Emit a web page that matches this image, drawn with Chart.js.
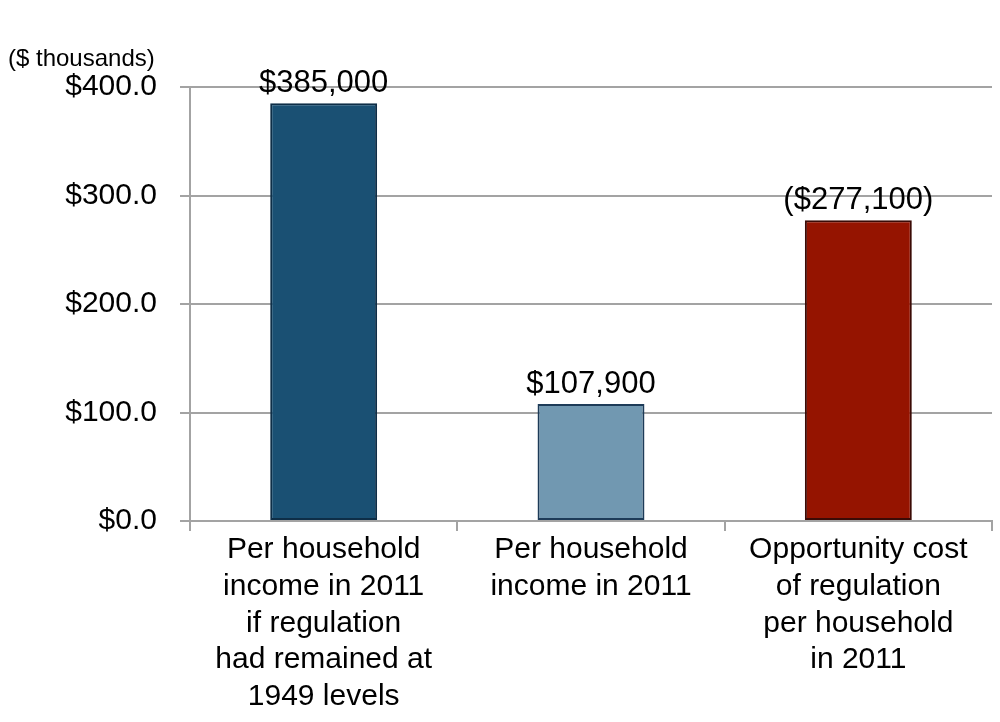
<!DOCTYPE html>
<html>
<head>
<meta charset="utf-8">
<script src="https://cdn.jsdelivr.net/npm/chart.js@4"></script>
<style>
  html, body { margin: 0; padding: 0; background: #fff; }
  #wrap { position: relative; width: 1000px; height: 722px; }
</style>
</head>
<body>
<div id="wrap"><canvas id="chart"></canvas></div>
<script>
// values in $ thousands
const categories = [
  ["Per household", "income in 2011", "if regulation", "had remained at", "1949 levels"],
  ["Per household", "income in 2011"],
  ["Opportunity cost", "of regulation", "per household", "in 2011"],
];
const values = [385.0, 107.9, 277.1];
const barColors = ["#1a5073", "#7198b1", "#951400"];
const barBorders = ["#0e2e47", "#1d3b58", "#3b0b06"];
const costIndex = 2; // shown in parentheses
const yTicks = [0, 100, 200, 300, 400];
const unitLabel = "($ thousands)";

const FONT = "'Liberation Sans', Arial, Helvetica, sans-serif";
const GRID = "#a3a3a3";

function money(v) {
  return "$" + Math.round(v * 1000).toLocaleString("en-US");
}

const labelsPlugin = {
  id: "barLabels",
  afterDatasetsDraw(chart) {
    const ctx = chart.ctx;
    const meta = chart.getDatasetMeta(0);
    ctx.save();
    ctx.font = "31px " + FONT;
    ctx.fillStyle = "#000";
    ctx.textAlign = "center";
    ctx.textBaseline = "bottom";
    meta.data.forEach((bar, i) => {
      let txt = money(values[i]);
      if (i === costIndex) txt = "(" + txt + ")";
      ctx.fillText(txt, bar.x, bar.y - 4);
    });
    ctx.font = "24px " + FONT;
    ctx.textAlign = "left";
    ctx.textBaseline = "middle";
    ctx.fillText(unitLabel, 8, 59);
    ctx.restore();
  },
};

new Chart(document.getElementById("chart"), {
  type: "bar",
  data: {
    labels: categories,
    datasets: [{
      data: values,
      backgroundColor: barColors,
      borderColor: barBorders,
      borderWidth: 2,
      borderSkipped: false,
      barPercentage: 0.4,
      categoryPercentage: 1,
    }],
  },
  options: {
    responsive: true,
    maintainAspectRatio: false,
    animation: false,
    layout: { padding: { top: 87, right: 8, left: 0, bottom: 0 } },
    plugins: { legend: { display: false }, tooltip: { enabled: false } },
    scales: {
      x: {
        grid: { drawOnChartArea: false, drawTicks: true, tickLength: 10, color: GRID, lineWidth: 2 },
        border: { display: true, color: GRID, width: 2 },
        ticks: {
          color: "#000",
          font: { family: FONT, size: 30, lineHeight: 1.23 },
          padding: 0,
          maxRotation: 0,
          autoSkip: false,
        },
        afterFit(scale) { scale.height = 201; },
      },
      y: {
        min: 0,
        max: 400,
        afterBuildTicks(scale) { scale.ticks = yTicks.map(v => ({ value: v })); },
        grid: { color: GRID, lineWidth: 2, drawTicks: true, tickLength: 10 },
        border: { display: true, color: GRID, width: 2 },
        ticks: {
          color: "#000",
          font: { family: FONT, size: 30 },
          padding: 23,
          callback: v => "$" + v.toFixed(1),
        },
        afterFit(scale) { scale.width = 190; },
      },
    },
  },
  plugins: [labelsPlugin],
});
</script>
</body>
</html>
